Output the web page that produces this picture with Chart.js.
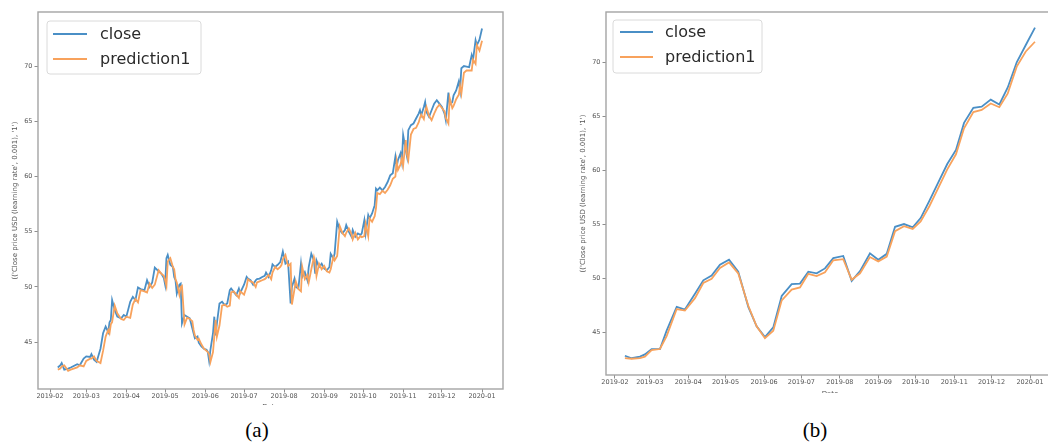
<!DOCTYPE html>
<html>
<head>
<meta charset="utf-8">
<script src="https://cdn.jsdelivr.net/npm/chart.js@4.4.1/dist/chart.umd.min.js"></script>
<style>
  html, body { margin: 0; padding: 0; background: #fff; width: 1048px; height: 443px; overflow: hidden; position: relative; }
  .box { position: absolute; overflow: hidden; }
  .box canvas { filter: blur(0.45px); }
  .cap { position: absolute; font-family: "Liberation Serif", "Times New Roman", serif; font-size: 21px; color: #000; transform: translateX(-50%); }
</style>
</head>
<body>
<div class="box" style="left:0;top:0;width:510px;height:405px"><canvas id="chartA" width="510" height="411"></canvas></div>
<div class="box" style="left:530px;top:0;width:518px;height:393px"><canvas id="chartB" width="530" height="398"></canvas></div>
<div class="cap" style="left:257px;top:418px">(a)</div>
<div class="cap" style="left:815px;top:418px">(b)</div>

<script>
// x values are days counted from 2019-02-01
const monthStarts = [0, 28, 59, 89, 120, 150, 181, 212, 242, 273, 303, 334];
const monthLabels = ["2019-02", "2019-03", "2019-04", "2019-05", "2019-06", "2019-07",
                     "2019-08", "2019-09", "2019-10", "2019-11", "2019-12", "2020-01"];
const yTicks = [45, 50, 55, 60, 65, 70];
const yTitle = "(('Close price USD (learning rate', 0.001), '1')";

// (a) daily
const daysA = [6, 8, 9, 11, 14, 16, 21, 23, 26, 28, 31, 32, 34, 36, 39, 41, 43, 45, 46, 47,
  48, 50, 52, 55, 57, 59, 62, 64, 66, 68, 70, 73, 75, 77, 79, 81, 84, 86, 88, 89,
  90, 91, 93, 95, 96, 97, 98, 100, 101, 102, 104, 106, 108, 110, 111, 112, 114, 115, 117, 119,
  121, 122, 123, 124, 126, 127, 128, 129, 131, 133, 135, 137, 139, 140, 142, 144, 146, 147, 150, 152,
  153, 155, 157, 159, 160, 162, 164, 166, 167, 169, 171, 172, 174, 176, 178, 179, 180, 182, 184, 186,
  187, 189, 190, 192, 194, 195, 197, 199, 200, 202, 204, 205, 206, 208, 210, 212, 214, 216, 217, 219,
  220, 222, 224, 226, 228, 229, 231, 233, 234, 236, 238, 240, 241, 243, 244, 246, 247, 249, 251, 252,
  253, 255, 257, 259, 261, 263, 265, 267, 268, 269, 271, 272, 273, 275, 276, 277, 279, 281, 283, 285,
  286, 287, 289, 290, 291, 293, 295, 297, 299, 301, 303, 305, 306, 308, 309, 311, 312, 314, 316, 317,
  318, 320, 322, 324, 326, 327, 329, 330, 332, 334];
const closeA = [42.7, 42.9, 43.1, 42.5, 42.6, 42.7, 43.0, 42.9, 43.5, 43.7, 43.65, 43.9, 43.4, 43.2, 44.4, 45.8, 46.4, 45.9, 46.8, 47.0,
  48.8, 47.9, 47.3, 47.15, 47.45, 47.3, 48.65, 49.1, 48.8, 49.95, 49.8, 49.7, 50.6, 50.0, 50.4, 51.75, 51.4, 51.2, 50.8, 50.2,
  52.6, 52.9, 52.0, 51.8, 50.9, 50.6, 49.4, 50.2, 50.3, 46.7, 47.45, 47.3, 47.15, 46.25, 45.8, 45.35, 45.5, 44.95, 44.6, 44.4,
  44.3, 44.1, 43.3, 44.3, 45.8, 47.3, 45.6, 46.7, 48.5, 48.65, 48.35, 48.5, 49.7, 49.85, 49.55, 49.25, 49.85, 49.45, 50.2, 50.9,
  50.75, 50.6, 50.2, 50.6, 50.7, 50.75, 50.9, 51.0, 51.3, 50.9, 51.5, 52.05, 51.8, 52.0, 52.25, 52.7, 53.2, 52.1, 52.3, 48.5,
  50.0, 50.75, 50.0, 49.85, 52.1, 50.9, 51.35, 50.6, 51.8, 53.0, 52.4, 51.2, 52.4, 51.8, 52.1, 51.65, 51.5, 51.8, 53.0, 52.6,
  53.0, 55.9, 55.15, 54.85, 55.15, 55.6, 55.0, 54.55, 55.15, 54.55, 54.85, 54.7, 54.85, 56.05, 54.85, 56.5, 56.2, 56.65, 57.4, 58.9,
  58.75, 59.0, 58.75, 59.05, 59.5, 60.1, 60.3, 61.8, 60.9, 61.5, 62.1, 61.35, 63.75, 62.4, 61.8, 64.2, 64.65, 64.8, 65.25, 65.7,
  66.0, 65.55, 66.3, 66.75, 65.85, 65.4, 66.0, 66.6, 66.9, 66.6, 66.3, 65.7, 65.1, 67.6, 66.5, 66.75, 67.35, 67.8, 68.6, 67.8,
  69.8, 70.0, 69.95, 69.9, 71.0, 70.55, 72.35, 71.9, 72.4, 73.4];
const predA = [42.5, 42.6, 42.8, 42.9, 42.4, 42.5, 42.7, 42.9, 42.8, 43.3, 43.5, 43.5, 43.7, 43.3, 43.1, 44.2, 45.5, 46.1, 45.8, 46.6,
  46.8, 48.3, 47.6, 47.1, 47.0, 47.3, 47.2, 48.4, 48.9, 48.6, 49.7, 49.6, 49.5, 50.3, 49.9, 50.2, 51.5, 51.2, 51.0, 50.6,
  50.1, 52.3, 52.6, 51.8, 51.6, 50.7, 50.4, 49.3, 50.0, 50.1, 46.6, 47.2, 47.1, 46.9, 46.1, 45.6, 45.2, 45.3, 44.8, 44.4,
  44.2, 44.1, 43.9, 43.2, 44.1, 45.5, 47.0, 45.5, 46.5, 48.3, 48.4, 48.2, 48.3, 49.5, 49.6, 49.3, 49.0, 49.6, 49.3, 50.0,
  50.7, 50.5, 50.4, 50.0, 50.4, 50.5, 50.6, 50.7, 50.8, 51.1, 50.7, 51.3, 51.8, 51.6, 51.8, 52.0, 52.5, 52.9, 51.9, 52.1,
  48.4, 49.8, 50.5, 49.8, 49.6, 51.8, 50.7, 51.1, 50.4, 51.6, 52.7, 52.2, 51.0, 52.1, 51.6, 51.9, 51.4, 51.3, 51.6, 52.7,
  52.4, 52.8, 55.5, 54.9, 54.6, 54.9, 55.3, 54.8, 54.3, 54.9, 54.3, 54.6, 54.5, 54.6, 55.7, 54.6, 56.2, 55.9, 56.4, 57.1,
  58.5, 58.4, 58.7, 58.5, 58.8, 59.2, 59.8, 60.0, 61.4, 60.6, 61.1, 61.7, 61.0, 63.3, 62.0, 61.5, 63.8, 64.3, 64.4, 64.9,
  65.3, 65.6, 65.2, 65.9, 66.3, 65.5, 65.1, 65.7, 66.2, 66.5, 66.2, 65.9, 65.3, 64.8, 67.1, 66.2, 66.4, 67.0, 67.4, 68.2,
  67.5, 69.4, 69.6, 69.6, 69.6, 70.6, 70.2, 71.9, 71.4, 72.3];

// (b) weekly
const daysB = [8, 13.4, 20.1, 24.1, 29.5, 36.2, 41.6, 49.7, 56.3, 64.4, 71.1, 77.8, 84.5, 91.8, 99.2, 107.3, 114, 120.7, 127.4, 134.2,
  142.2, 148.9, 155.6, 162.3, 169, 175.7, 183.7, 190.5, 197.2, 205.2, 211.9, 218.7, 225.4, 232.6, 239.6, 246, 253, 260.2, 267.4, 274.4,
  280.9, 288.4, 295.1, 302.4, 309.3, 316, 323.3, 330.6, 338];
const closeB = [42.88, 42.65, 42.8, 43.0, 43.5, 43.5, 45.2, 47.4, 47.15, 48.6, 49.85, 50.3, 51.3, 51.75, 50.65, 47.4, 45.6, 44.6, 45.5, 48.4,
  49.5, 49.55, 50.65, 50.5, 50.95, 51.9, 52.1, 49.8, 50.7, 52.35, 51.75, 52.3, 54.8, 55.05, 54.75, 55.6, 57.2, 58.9, 60.6, 61.9,
  64.4, 65.8, 65.9, 66.55, 66.1, 67.65, 70.0, 71.6, 73.2];
const predB = [42.66, 42.6, 42.65, 42.8, 43.4, 43.5, 44.7, 47.2, 47.05, 48.2, 49.6, 50.0, 51.0, 51.5, 50.5, 47.5, 45.6, 44.5, 45.2, 48.0,
  49.0, 49.2, 50.45, 50.25, 50.6, 51.7, 51.8, 49.9, 50.5, 52.0, 51.6, 52.05, 54.4, 54.85, 54.6, 55.3, 56.7, 58.4, 60.1, 61.5,
  63.9, 65.4, 65.6, 66.2, 65.85, 67.1, 69.6, 71.0, 71.9];

const BLUE = "#4a8fc6";
const ORANGE = "#f8a25c";
const AXIS = "#8e8e8e";
const TXT = "#555";

// matplotlib-like frame and in-plot legend
const frameLegend = {
  id: "frameLegend",
  afterDraw(chart, args, o) {
    const { ctx, chartArea: a } = chart;
    ctx.save();
    ctx.strokeStyle = "#a4a4a4";
    ctx.lineWidth = 1.4;
    ctx.strokeRect(a.left, a.top, a.right - a.left, a.bottom - a.top);

    const x = a.left + o.x, y = a.top + o.y;
    ctx.beginPath();
    ctx.roundRect(x, y, o.w, o.h, 3);
    ctx.fillStyle = "rgba(255,255,255,0.85)";
    ctx.fill();
    ctx.strokeStyle = "#dadada";
    ctx.lineWidth = 1;
    ctx.stroke();

    ctx.font = '16px "DejaVu Sans"';
    ctx.textBaseline = "middle";
    ctx.fillStyle = "#2a2a2a";
    chart.data.datasets.forEach((ds, i) => {
      const ry = a.top + o.rows[i];
      ctx.beginPath();
      ctx.moveTo(a.left + o.l0, ry);
      ctx.lineTo(a.left + o.l1, ry);
      ctx.strokeStyle = ds.borderColor;
      ctx.lineWidth = 2;
      ctx.stroke();
      ctx.fillText(ds.label, a.left + o.tx, ry + 1);
    });
    ctx.restore();
  },
};

function makeChart(id, days, close, pred, cfg) {
  return new Chart(document.getElementById(id), {
    type: "line",
    data: {
      datasets: [
        { label: "close", data: days.map((d, i) => ({ x: d, y: close[i] })),
          borderColor: BLUE, borderWidth: 1.8, pointRadius: 0, tension: 0, order: 1 },
        { label: "prediction1", data: days.map((d, i) => ({ x: d, y: pred[i] })),
          borderColor: ORANGE, borderWidth: 1.8, pointRadius: 0, tension: 0, order: 0 },
      ],
    },
    options: {
      responsive: false,
      animation: false,
      events: [],
      layout: { padding: { left: cfg.padLeft, right: cfg.padRight, top: 12, bottom: 0 } },
      plugins: { legend: { display: false }, tooltip: { enabled: false }, frameLegend: cfg.legend },
      scales: {
        x: {
          type: "linear",
          min: cfg.xMin,
          max: cfg.xMax,
          afterBuildTicks: (s) => { s.ticks = monthStarts.map((v) => ({ value: v })); },
          afterFit: (s) => { s.height = cfg.xHeight; },
          ticks: {
            autoSkip: false, maxRotation: 0, padding: 0, color: TXT,
            font: { family: "DejaVu Sans", size: 6.5 },
            callback: (v) => monthLabels[monthStarts.indexOf(v)],
          },
          grid: { drawOnChartArea: false, drawTicks: true, tickLength: 3.5, color: AXIS },
          border: { display: false },
          title: { display: true, text: "Date", color: TXT, padding: 0,
                   font: { family: "DejaVu Sans", size: 7 } },
        },
        y: {
          min: cfg.yMin,
          max: cfg.yMax,
          afterBuildTicks: (s) => { s.ticks = yTicks.map((v) => ({ value: v })); },
          afterFit: (s) => { s.width = 38; },
          ticks: { padding: 2, color: TXT, font: { family: "DejaVu Sans", size: 6.5 } },
          grid: { drawOnChartArea: false, drawTicks: true, tickLength: 3.5, color: AXIS },
          border: { display: false },
          title: { display: true, text: yTitle, color: TXT, padding: { top: 10.8, bottom: 0 },
                   font: { family: "DejaVu Sans", size: 7 } },
        },
      },
    },
    plugins: [frameLegend],
  });
}

makeChart("chartA", daysA, closeA, predA, {
  padLeft: 0, padRight: 7, xHeight: 22,
  xMin: -9.3, xMax: 350.2, yMin: 40.75, yMax: 74.9,
  legend: { x: 9, y: 9, w: 154, h: 53, l0: 15, l1: 49, tx: 62, rows: [22, 47] },
});

makeChart("chartB", daysB, closeB, predB, {
  padLeft: 38, padRight: 6, xHeight: 23,
  xMin: -7.2, xMax: 353.3, yMin: 41.1, yMax: 74.65,
  legend: { x: 7, y: 8, w: 149, h: 53, l0: 14, l1: 47, tx: 59, rows: [20, 45] },
});
</script>
</body>
</html>
